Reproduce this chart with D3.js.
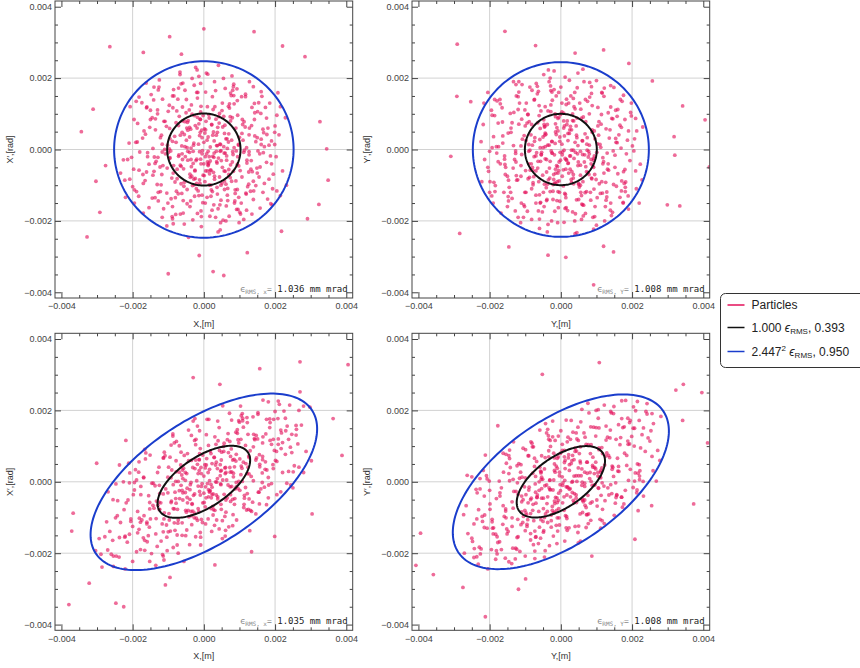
<!DOCTYPE html>
<html>
<head>
<meta charset="utf-8">
<script src="https://cdn.jsdelivr.net/npm/d3@7"></script>
<style>
  body { margin: 0; background: #fff; }
  svg { display: block; font-family: "Liberation Sans", Arial, sans-serif; }
</style>
</head>
<body>
<svg id="chart" width="860" height="668"></svg>
<script>
// Particle coordinates, units of 1e-5 (m and rad).
// Flat lists: x0, x'0, x1, x'1, ...
var particlesTL = [
  12,-45, -88,23, 134,67, -21,-110, 56,8, -143,-72, 77,151, -5,33, 190,-40, -64,-96,
  31,120, -117,15, 8,-12, 98,-134, -40,62, 161,29, -182,-58, 44,-77, -9,185, 70,44,
  -150,110, 23,-170, 112,-8, -36,-28, 205,96, -73,141, 60,-61, -128,-144, 15,88, -97,2,
  140,-116, -19,60, 83,176, -210,18, 3,-90, 51,109, -66,-181, 127,41, -45,-5, 188,-152,
  -112,79, 29,24, -158,-20, 94,-42, 7,214, -26,-131, 173,118, -82,37, 62,-200, -131,-98,
  41,-24, 109,70, -53,166, 20,-58, -189,-118, 152,-4, -7,-216, 85,128, -103,-52, 36,11,
  -14,72, 221,-60, -125,195, 67,-109, -39,-160, 117,155, -168,52, 10,-35, 90,-88, -60,119,
  146,22, -92,-138, 27,49, -234,-66, 55,199, -28,-83, 180,60, -71,-19, 101,-176, -141,139,
  4,-150, 74,92, -47,5, 132,-55, -196,84, 38,-125, -108,-12, 160,101, -18,144, 64,-30,
  -86,-66, 199,14, 19,-100, -154,-163, 116,63, -33,99, 47,-205, -119,40, 88,-123, -2,-72,
  170,-95, -59,186, 25,-19, -137,-39, 139,176, -77,-117, 10,120, 105,-150, -174,131, 58,45,
  -30,-39, 83,-61, -100,107, 211,41, -55,-209, 33,165, -203,-22, 126,-97, -12,-6, 79,206,
  -165,-87, 48,-142, 2,58, -79,-182, 157,-12, -44,81, 94,137, -122,-118, 18,-58, 229,89,
  -9,-27, -186,73, 71,-187, 120,5, -23,230, -96,-25, 43,74, -148,154, 179,-139, -58,-143,
  106,148, -34,-75, 150,-66, -110,0, 62,30, -18,-179, -200,-104, 135,118, -67,210, 24,-118,
  82,-14, -145,-136, 14,97, 193,-110, -71,67, 51,-94, -126,175, 98,12, -43,-246, 166,57,
  -97,124, 29,-10, -226,-29, 75,158, -5,-128, 121,-38, -57,-54, 185,130, -136,86, 40,-166,
  -20,160, 112,-196, -81,-91, 66,3, -172,32, 16,-68, 142,84, -40,-8, 87,-144, -113,-166,
  203,-20, -49,140, 36,-34, -101,-150, 128,190, -6,54, -161,-63, 58,-112, 158,-164, -27,95,
  91,-4, -140,175, 46,-225, -78,20, 215,-129, -15,15, 107,-77, -190,135, 0,-40, 72,116,
  -56,-103, 143,38, -118,-70, 30,190, 176,-36, -88,-194, 53,63, -35,125, 127,-6, -208,-83,
  20,-131, -66,40, 163,149, -130,111, 96,-168, -11,-95, 69,21, -154,-41, 41,236, -88,150,
  119,-125, -25,-58, 183,12, -64,184, 12,-42, -220,-134, 80,89, -47,-152, 139,-89, -105,65,
  60,171, -170,-178, 4,-20, 151,106, -93,-4, 37,-106, -14,205, 98,-46, -129,-22, 232,-100,
  -37,57, 88,-113, -150,84, 26,112, -62,-123, 167,-9, -8,-172, 113,78, -195,-150, 48,-3,
  -117,-7, 5,161, 135,-181, -76,108, 57,-60, -162,186, 94,-112, -27,-99, 199,48, -53,8,
  34,85, -104,-214, 154,131, -22,-31, -143,3, 66,-128, 121,-30, -85,168, 17,-187, -187,21,
  103,-181, -46,76, 9,26, -207,120, 78,-89, -64,-47, 161,162, -120,-99, 38,11, 126,-63,
  -16,-116, 208,159, -96,59, 45,-155, -137,-135, 84,151, -4,-3, -180,-7, 131,-117, 22,69,
  -69,93, 149,-52, -31,-197, 72,128, -123,-49, 190,24, -10,85, 54,-198, -161,117, 100,34,
  15,-20, -40,35, 60,-10, -25,-60, 38,48, -70,-15, 22,70, -55,42, 80,-35, -12,-85,
  45,15, -30,-5, 5,55, -85,-45, 65,30, -8,-40, 30,-75, -60,80, 90,60, -45,-30,
  0,20, 52,-50, -18,90, -95,30, 28,-22, -38,-78, 70,-70, -5,-12, 42,92, -75,-55,
  25,40, -62,10, 85,5, -20,-95, 10,-60, -48,60, 58,-88, -90,-80, 35,-5, -10,48,
  75,80, -35,-48, 18,-32, -78,75, 48,-100, -2,95, 95,-20, -52,-20, 12,35, -28,18,
  -122,33, 67,-143, 18,7, -41,111, 155,-77, -88,-160, 39,62, 110,26, -170,-95, 5,-60,
  93,170, -61,-12, 176,88, -14,-129, 49,-31, -136,55, 24,148, 120,-170, -75,-82, 143,103,
  -29,12, 81,-6, -104,-122, 11,211, 187,-18, -53,78, 62,-97, -197,-55, 35,40, -7,-188,
  128,60, -84,150, 1,-73, 69,121, -158,-9, 102,-59, -32,-101, 47,14, -117,-190, 166,-120,
  -9,105, 133,-31, -66,-44, 200,66, -145,89, 28,-155, -49,26, 84,183, -183,-131, 57,-10,
  -102,12, 14,-38, 117,148, -24,67, 74,-79, -191,20, 40,-231, -71,172, 158,-49, -12,39,
  95,96, -140,-61, 21,-113, -58,-178, 170,8, -87,117, 6,79, 139,-140, -214,-28, 52,130,
  -39,-69, 107,45, -128,167, 64,-18, -17,160, 183,-83, -95,-23, 30,-83, -61,48, 123,-104,
  -3,-149, -160,119, 86,-150, -47,-112, 215,120, 12,-5, -109,79, 150,33, -33,199, 70,-56,
  -171,-70, 44,101, -80,-135, 114,-2, -20,-27, 192,-155, -134,-33, 59,68, -8,121, 99,-205,
  -55,-92, 161,14, -195,-113, 27,-64, -116,141, 81,166, -36,4, 136,-62, -86,-208, 3,46,
  118,-122, -152,62, 46,-5, -67,217, 177,42, -24,-81, 92,-168, -128,-120, 56,93, -182,147,
  15,-99, 142,129, -99,-8, 33,-190, -10,84, -222,-86, 127,-15, -45,54, 78,26, -139,-21,
  63,-158, -115,-45, 195,-69, -27,180, 108,84, -72,-124, 9,-134, -164,43, 146,-101, -50,103,
  37,-38, 168,47, -89,-188, 75,-43, -130,100, -19,223, 205,-116, -60,-28, 97,14, -37,-144,
  0,338, 141,330, -96,316, -264,288, 221,290, 284,260, -344,50, -311,113, -328,-245, -292,-176,
  -100,-348, 26,-342, 56,-353, -13,-297, 326,78, 349,-86, 323,-154, 291,-194, 218,-229, 122,-289,
  345,2, -303,-89, -276,-45, -170,272, -63,267
];

var particlesTR = [
  -33,12, 95,-70, -140,48, 22,130, 67,-15, -8,-118, 180,84, -102,-160, 44,40, -61,95,
  120,-34, -15,-55, -186,140, 81,188, 5,-7, -130,-28, 59,-153, -48,210, 155,20, -92,-82,
  10,66, 212,-110, -74,23, 36,-96, -160,-120, 104,118, -26,-200, 70,-48, -118,161, 145,-176,
  -55,-14, 28,150, -205,-50, 138,55, -3,-145, -89,78, 176,-62, 48,11, -142,101, 83,-120,
  -20,-84, 110,14, -66,177, 16,-30, 196,104, -121,-85, 58,88, -38,-231, 129,-133, -175,8,
  74,-2, -97,130, 41,-180, -13,42, -150,-160, 167,140, -44,-26, 99,-84, -218,70, 3,105,
  136,32, -30,-118, 62,225, -112,10, 22,-66, -184,-101, 90,-190, -58,59, 194,-31, -7,-163,
  -81,166, 47,-12, -134,-52, 113,71, -24,138, 175,-150, -62,-90, 12,203, -200,-5, 87,-82,
  25,55, -105,-190, 152,-50, -44,120, 68,-121, -16,17, -170,128, 122,172, -90,-40, 40,-236,
  -140,60, 80,100, -9,-48, 201,10, -57,-148, 33,81, -188,-92, 108,-96, -28,165, 61,24,
  156,-103, -73,33, 19,-171, -125,150, 94,-18, -40,-63, 230,63, -6,90, -101,-120, 140,119,
  -18,-15, 63,-186, -158,-27, 35,143, -80,12, 118,-40, -35,223, 181,-118, -128,-172, 7,-102,
  88,48, -60,-221, 130,-10, -195,110, 29,-84, -11,61, 146,86, -86,-58, 50,-140, -163,38,
  100,193, -41,-107, 9,-2, -112,-75, 163,41, -69,185, 76,-65, -22,-140, 210,-60, -147,-144,
  53,130, -180,-10, 125,-160, -3,35, -93,98, 184,-12, -52,-175, 40,114, -126,-35, 92,-223,
  -38,70, 117,-122, -205,160, 66,-35, -17,-94, 149,174, -110,-14, 31,-62, -74,140, 220,-150,
  -150,-75, 15,126, 78,-5, -47,-160, 190,52, -100,66, 55,-100, -190,-150, 103,16, -30,200,
  44,-141, -133,11, 171,-88, -6,-59, 86,157, -82,-110, 8,80, -176,74, 133,-40, -60,-195,
  198,130, -25,23, 61,-155, -118,190, 37,-25, -9,-205, 114,98, -155,-50, 72,-118, -44,46,
  -98,-120, 160,-68, -36,108, 14,-135, -189,36, 96,30, -57,-33, 228,-85, -120,112, 46,173,
  127,-142, -79,-58, 24,45, -145,-106, 58,-196, -13,150, 169,4, -103,39, 35,-70, -60,-127,
  -171,140, 107,78, -4,-120, -68,-9, 142,-185, -28,125, 80,-12, -214,-28, 12,-165, 115,160,
  -50,5, 189,-130, -120,-190, 43,66, -31,-80, 154,110, -87,175, 21,-38, 96,-160, -156,-70,
  65,190, -12,-45, -181,8, 134,-58, -70,-150, 8,102, -137,75, 176,152, 52,-105, -24,-10,
  -112,-45, 39,-200, 207,30, -48,83, 115,-90, -94,-173, 20,25, -165,117, 85,-28, -6,160,
  147,-4, -39,-140, 75,135, -200,-120, 4,-75, -133,190, 102,-135, -56,108, 166,68, -15,-95,
  -84,41, 27,-18, -127,-4, 181,-106, -63,163, 56,-120, -170,-40, 94,52, -19,220, 121,-66,
  33,-175, -110,85, 158,93, -46,-97, -222,-90, 69,140, -1,-30, 140,-150, -90,14, 17,70,
  -148,-132, 92,-50, -29,178, 49,-35, 210,87, -76,-76, 11,-123, -116,130, 170,-116, -37,12,
  56,113, -158,-18, 123,-200, -15,72, 86,-80, -104,-155, 39,160, -193,96, 74,33, -65,-52,
  12,-25, -45,40, 55,-5, -20,-70, 30,55, -75,-20, 18,80, -50,35, 85,-40, -10,-90,
  40,20, -25,-10, 8,60, -80,-50, 60,25, -5,-35, 35,-80, -65,75, 88,55, -40,-28,
  3,15, 48,-45, -15,92, -98,25, 25,-18, -35,-85, 72,-62, -2,-8, 45,88, -70,-60,
  20,45, -58,5, 80,12, -22,-98, 14,-55, -45,65, 62,-90, -88,-78, 30,-2, -8,52,
  70,78, -32,-52, 15,-28, -82,70, 50,-95, -1,98, 92,-25, -55,-15, 10,38, -25,22,
  77,-21, -132,104, 13,-126, -64,-33, 182,-91, -25,161, 104,66, -185,-118, 41,-8, -8,87,
  -111,-150, 154,31, -47,70, 69,-179, -163,18, 24,194, 131,-55, -78,-93, 4,-15, 198,94,
  -36,-210, 88,123, -203,-61, 55,-44, -120,148, 166,-134, -15,49, 112,6, -70,-128, 30,-92,
  -148,46, 16,141, 93,-111, -54,-8, 140,179, -99,-59, 61,-14, -17,-173, 223,-41, -126,182,
  45,33, -82,-196, 178,-95, -28,106, 7,-57, -176,-34, 121,149, -61,123, 84,-142, -108,29,
  152,-16, -38,-97, -216,130, 36,80, -90,-5, 100,-212, -3,23, 170,62, -147,-86, 58,-129,
  -19,168, 133,103, -58,-150, 20,-39, -186,95, 79,-70, -127,-11, 48,214, 190,-167, -44,8,
  -95,74, 111,-123, -5,-88, 158,19, -168,-178, 68,44, -33,190, 126,-92, -75,139, 9,-204,
  205,-4, -124,-86, 37,120, -49,-120, 92,-30, -193,5, 143,87, -14,-66, -101,111, 64,-156,
  -59,28, 180,-56, -137,-137, 27,65, -11,-143, 116,158, -83,-40, 50,-98, -164,77, 3,130,
  139,-170, -42,43, 73,15, -199,-90, 101,-8, -22,-117, 160,112, -113,-205, 33,100, -70,-18,
  -157,-42, 86,176, -8,-66, 129,-119, -66,156, 213,52, -118,71, 55,-72, -27,-4, 95,-188,
  -40,-143, 172,135, -87,-2, 15,-163, -224,22, 63,91, -51,-72, 118,-23, -179,136, 26,-55,
  106,40, -141,-120, 45,-233, -92,98, 187,26, -30,-33, 81,147, -125,-73, 0,175, 148,-98,
  -63,-172, 35,-2, -109,182, 175,-148, -16,100, -194,-130, 90,-46, -46,63, 127,58, -78,-99,
  -157,331, -291,295, -71,291, 405,83, 417,-49, -309,-19, -284,-235, -146,-273, -36,-296, 14,-302,
  120,-271, 148,-287, 92,-379, 318,36, 320,-16, 334,-158, 299,-155, 40,270, 120,279, 191,241,
  257,192, 342,122, -253,134, -292,149
];

var particlesBL = [
  16,-29, -114,-34, 174,134, -27,-101, 73,40, -186,-143, 100,167, -7,23, 247,82, -83,-115,
  40,115, -152,-58, 10,-5, 127,-48, -52,26, 209,120, -237,-156, 57,-35, -12,143, 91,77,
  -195,-2, 30,-122, 146,61, -47,-44, 267,200, -95,69, 78,-13, -166,-192, 20,79, -126,-57,
  182,-9, -25,37, 108,191, -273,-112, 4,-70, 66,118, -86,-184, 165,109, -59,-31, 244,-9,
  -146,-4, 38,37, -205,-111, 122,23, 9,175, -34,-120, 225,198, -107,-20, 81,-123, -170,-157,
  53,5, 142,121, -69,101, 26,-34, -246,-208, 198,88, -9,-177, 111,153, -134,-103, 47,30,
  -18,49, 287,85, -163,81, 87,-47, -51,-151, 152,194, -218,-59, 13,-22, 117,-16, -78,59,
  190,105, -120,-166, 35,55, -304,-193, 72,192, -36,-83, 234,156, -92,-58, 131,-80, -183,27,
  5,-118, 96,118, -61,-24, 172,35, -255,-50, 49,-77, -140,-74, 208,177, -23,104, 83,14,
  -112,-104, 259,131, 25,-69, -200,-223, 151,120, -43,59, 61,-136, -155,-39, 114,-46, -3,-59,
  221,26, -77,113, 33,0, -178,-113, 181,224, -100,-140, 13,102, 137,-57, -226,0, 75,71,
  -39,-49, 108,1, -130,26, 274,159, -72,-200, 43,152, -264,-139, 164,-2, -16,-12, 103,212,
  -215,-169, 62,-85, 3,48, -103,-193, 204,85, -57,38, 122,166, -159,-168, 23,-36, 298,209,
  -12,-27, -242,-53, 92,-107, 156,76, -30,170, -125,-78, 56,85, -192,34, 233,-4, -75,-149,
  138,182, -44,-80, 195,37, -143,-66, 81,61, -23,-154, -260,-203, 176,175, -87,128, 31,-80,
  107,38, -189,-196, 18,86, 251,28, -92,11, 66,-45, -164,64, 127,68, -56,-223, 216,145,
  -126,41, 38,9, -294,-159, 98,171, -7,-105, 157,42, -74,-77, 241,215, -177,-13, 52,-109,
  -26,116, 146,-90, -105,-121, 86,42, -224,-78, 21,-45, 185,152, -52,-30, 113,-63, -147,-201,
  264,106, -64,83, 47,-6, -131,-181, 166,229, -8,40, -209,-147, 75,-55, 205,-36, -35,60,
  118,51, -182,56, 60,-152, -101,-31, 280,26, -20,3, 139,3, -247,-6, 0,-32, 94,136,
  -73,-116, 186,116, -153,-127, 39,170, 229,77, -114,-208, 69,82, -46,79, 165,71, -270,-191,
  26,-93, -86,-8, 212,217, -169,11, 125,-77, -14,-83, 90,58, -200,-125, 53,213, -114,67,
  155,-29, -33,-61, 238,119, -83,109, 16,-26, -286,-239, 104,119, -61,-150, 181,12, -137,-11,
  78,173, -221,-244, 5,-14, 196,175, -121,-59, 48,-63, -18,156, 127,22, -168,-95, 302,59,
  -48,23, 114,-38, -195,-23, 34,105, -81,-136, 217,93, -10,-142, 147,130, -254,-237, 62,26,
  -152,-76, 7,132, 176,-64, -99,41, 74,-14, -211,52, 122,-33, -35,-95, 259,158, -69,-25,
  44,88, -135,-234, 200,197, -29,-38, -186,-83, 86,-63, 157,49, -111,83, 22,-139, -243,-95,
  134,-83, -60,33, 12,26, -269,-28, 101,-24, -83,-76, 209,226, -156,-151, 49,32, 164,25,
  -21,-102, 270,252, -125,-10, 59,-97, -178,-190, 109,171, -5,-5, -234,-114, 170,-15, 29,68,
  -90,33, 194,48, -40,-176, 94,146, -160,-113, 247,133, -13,62, 70,-126, -209,-3, 130,87,
  20,-7, -52,4, 78,28, -33,-63, 49,61, -91,-54, 29,69, -72,1, 104,20, -16,-75,
  59,39, -39,-22, 7,47, -111,-87, 85,63, -10,-37, 39,-42, -78,28, 117,102, -59,-51,
  0,16, 68,-9, -23,61, -124,-33, 36,-1, -49,-85, 91,-14, -7,-13, 55,99, -98,-89,
  33,47, -81,-29, 111,55, -26,-88, 13,-42, -62,19, 75,-36, -117,-118, 46,17, -13,32,
  98,109, -46,-59, 23,-15, -101,13, 62,-51, -3,75, 124,41, -68,-47, 16,35, -36,-2,
  -160,-118, 88,-20, 23,51, -55,74, 201,60, -114,-140, 50,83, 143,118, -221,-152, 6,-45,
  121,180, -79,-47, 229,178, -18,-108, 64,5, -177,-36, 31,126, 156,-62, -97,-107, 186,166,
  -38,-8, 105,44, -135,-146, 14,175, 243,97, -69,27, 81,-49, -256,-164, 46,48, -9,-155,
  166,126, -109,73, 1,-58, 90,139, -205,-104, 133,15, -42,-98, 61,40, -152,-223, 216,-28,
  -12,79, 173,56, -86,-75, 260,147, -189,5, 36,-107, -64,-10, 109,178, -238,-211, 74,27,
  -133,-54, 18,-25, 152,189, -31,40, 96,-19, -248,-101, 52,-159, -92,103, 205,57, -16,23,
  124,133, -182,-133, 27,-78, -75,-177, 221,110, -113,67, 8,65, 181,-45, -278,-154, 68,135,
  -51,-80, 139,98, -166,91, 83,24, -22,119, 238,29, -124,-77, 39,-48, -79,1, 160,-20,
  -4,-114, -208,25, 112,-72, -61,-115, 280,212, 16,3, -142,-4, 195,119, -43,145, 91,-2,
  -222,-155, 57,108, -104,-155, 148,67, -26,-34, 250,-17, -174,-107, 77,92, -10,93, 129,-137,
  -72,-107, 209,105, -254,-208, 35,-37, -151,75, 105,185, -47,-18, 177,33, -112,-219, 4,39,
  153,-29, -198,-36, 60,23, -87,134, 230,143, -31,-82, 120,-79, -166,-164, 73,113, -237,47,
  20,-75, 185,176, -129,-66, 43,-132, -13,62, -289,-203, 165,62, -59,9, 101,64, -181,-102,
  82,-92, -150,-104, 254,45, -35,130, 140,133, -94,-138, 12,-104, -213,-51, 190,-5, -65,47,
  48,-8, 218,137, -116,-204, 98,1, -169,13, -25,177, 267,41, -78,-60, 126,72, -48,-135,
  -379,-344, -225,-350, -247,-340, -322,-284, 405,328, 270,336, 157,317, -30,292, 45,273, -301,52,
  -367,-88, -371,-138, 363,177, 388,74, 304,-90, -108,-289, -95,-268, 31,-233, 134,-196, 199,-153,
  -219,116
];

var particlesBR = [
  -40,-9, 116,-3, -171,-40, 27,119, 82,26, -10,-101, 220,172, -124,-189, 54,58, -74,43,
  146,41, -18,-54, -227,9, 99,200, 6,-3, -159,-97, 72,-92, -59,145, 189,105, -112,-120,
  12,60, 259,31, -90,-23, 44,-58, -195,-190, 127,156, -32,-179, 85,1, -144,65, 177,-62,
  -67,-43, 34,139, -250,-158, 168,124, -4,-121, -109,13, 215,50, 59,36, -173,2, 101,-51,
  -24,-80, 134,74, -81,108, 20,-16, 239,197, -148,-139, 71,105, -46,-211, 157,-36, -214,-93,
  90,41, -118,51, 50,-124, -16,27, -183,-217, 204,210, -54,-46, 121,-12, -266,-67, 4,88,
  166,104, -37,-114, 76,220, -137,-56, 27,-42, -224,-188, 110,-105, -71,15, 237,85, -9,-138,
  -99,90, 57,17, -163,-119, 138,123, -29,99, 214,-23, -76,-109, 15,173, -244,-118, 106,-18,
  31,59, -128,-216, 185,46, -54,73, 83,-60, -20,5, -207,8, 149,211, -110,-84, 49,-171,
  -171,-31, 98,128, -11,-45, 245,123, -70,-154, 40,85, -229,-183, 132,-17, -34,119, 74,55,
  190,4, -89,-15, 23,-129, -153,52, 115,39, -49,-75, 281,183, -7,70, -123,-156, 171,177,
  -22,-23, 77,-117, -193,-112, 43,137, -98,-36, 144,35, -43,163, 221,6, -156,-214, 9,-80,
  107,90, -73,-215, 159,66, -238,-21, 35,-52, -13,44, 178,154, -105,-97, 61,-86, -199,-62,
  122,215, -50,-111, 11,4, -137,-125, 199,127, -84,112, 93,-10, -27,-127, 256,71, -179,-202,
  65,137, -220,-111, 153,-60, -4,27, -113,27, 224,95, -63,-173, 49,116, -154,-101, 112,-130,
  -46,36, 143,-33, -250,14, 81,9, -21,-87, 182,228, -134,-74, 38,-33, -90,73, 268,2,
  -183,-147, 18,112, 95,40, -57,-158, 232,151, -122,-3, 67,-51, -232,-231, 126,72, -37,147,
  54,-90, -162,-67, 209,25, -7,-52, 105,178, -100,-137, 10,70, -215,-40, 162,43, -73,-194,
  242,219, -31,5, 74,-92, -144,89, 45,1, -11,-173, 139,145, -189,-129, 88,-56, -54,13,
  -120,-154, 195,35, -44,68, 17,-103, -231,-78, 117,79, -70,-60, 278,60, -146,23, 56,168,
  155,-44, -96,-93, 29,51, -177,-170, 71,-128, -16,116, 206,100, -126,-27, 43,-37, -73,-138,
  -209,17, 131,125, -5,-101, -83,-46, 173,-71, -34,87, 98,36, -261,-145, 15,-129, 140,197,
  -61,-24, 231,1, -146,-224, 52,79, -38,-83, 188,178, -106,94, 26,-19, 117,-77, -190,-146,
  79,193, -15,-44, -221,-97, 163,29, -85,-163, 10,88, -167,-17, 215,225, 63,-56, -29,-22,
  -137,-101, 48,-142, 253,143, -59,41, 140,-8, -115,-195, 24,32, -201,2, 104,26, -7,128,
  179,80, -48,-137, 92,153, -244,-212, 5,-59, -162,80, 124,-53, -68,57, 203,150, -18,-86,
  -102,-14, 33,1, -155,-76, 221,16, -77,98, 68,-66, -207,-130, 115,96, -23,170, 148,15,
  40,-125, -134,7, 193,166, -56,-106, -271,-200, 84,154, -1,-25, 171,-43, -110,-40, 21,67,
  -181,-193, 112,11, -35,129, 60,-1, 256,191, -93,-106, 13,-95, -142,40, 207,2, -45,-11,
  68,125, -193,-105, 150,-94, -18,50, 105,-17, -127,-186, 48,153, -235,-31, 90,69, -79,-80,
  15,-14, -55,7, 67,27, -24,-69, 37,62, -92,-59, 22,76, -61,0, 104,16, -12,-80,
  49,39, -31,-22, 10,54, -98,-87, 73,55, -6,-32, 43,-46, -79,24, 107,95, -49,-46,
  4,14, 59,-10, -18,67, -120,-35, 31,-1, -43,-90, 88,-10, -2,-8, 55,98, -85,-89,
  24,48, -71,-29, 98,55, -27,-93, 17,-37, -55,28, 76,-38, -107,-114, 37,16, -10,38,
  85,104, -39,-61, 18,-14, -100,11, 61,-49, -1,80, 112,32, -67,-44, 12,37, -31,4,
  94,23, -161,27, 16,-97, -78,-63, 222,31, -30,116, 127,117, -226,-202, 50,17, -10,66,
  -135,-186, 188,114, -57,30, 84,-108, -199,-77, 29,172, 160,30, -95,-119, 5,-10, 242,190,
  -44,-193, 107,151, -248,-167, 67,-4, -146,73, 203,-16, -18,32, 137,68, -85,-145, 37,-58,
  -181,-47, 20,125, 113,-38, -66,-37, 171,227, -121,-105, 74,24, -21,-152, 272,88, -154,77,
  55,53, -100,-208, 217,24, -34,70, 9,-42, -215,-128, 148,191, -74,66, 102,-68, -132,-27,
  185,74, -46,-100, -263,18, 44,86, -110,-56, 122,-117, -4,17, 207,150, -179,-154, 71,-72,
  -23,126, 162,160, -71,-155, 24,-21, -227,-20, 96,-8, -155,-82, 59,203, 232,-40, -54,-19,
  -116,10, 135,-37, -6,-75, 193,106, -205,-244, 83,79, -40,137, 154,-3, -92,73, 11,-166,
  250,114, -151,-146, 45,120, -60,-127, 112,27, -236,-104, 174,152, -17,-61, -123,45, 78,-90,
  -72,-6, 220,48, -167,-190, 33,74, -13,-122, 142,193, -101,-80, 61,-52, -200,-24, 4,105,
  170,-43, -51,7, 89,46, -243,-187, 123,47, -27,-109, 195,172, -138,-229, 40,94, -85,-50,
  -192,-130, 105,202, -10,-58, 157,-38, -80,98, 260,163, -144,3, 67,-13, -33,-17, 116,-109,
  -49,-141, 210,199, -106,-50, 18,-136, -273,-92, 77,104, -62,-83, 144,44, -218,32, 32,-30,
  129,81, -172,-168, 55,-166, -112,48, 228,132, -37,-42, 99,152, -152,-132, 0,143, 181,-24,
  -77,-176, 43,17, -133,112, 213,-31, -20,80, -236,-210, 110,14, -56,25, 155,119, -95,-125,
  -52,301, 108,334, 396,250, 412,109, 373,-62, -394,-144, -407,-234, -358,-260, -275,-296, -212,-378,
  -119,-301, -99,-272, 87,-208, 208,-161, 217,-81, 255,-67, -177,157, -212,75, 342,172, 323,257,
  344,273
];

// RMS beam ellipse parameters per panel (sigma, sigma', correlation), units 1e-5
var sigmaPos = [103, 101, 130, 124];
var sigmaAng = [101, 100, 101, 100];
var corr = [0, 0, 0.6, 0.58];
var contourScale = [1.000, 2.447];
var contourColor = ["#111111", "#1a3dcc"];

var emitValues = ["1.036", "1.008", "1.035", "1.008"];
var emitPlanes = ["x", "Y", "x", "Y"];
var xTitles = ["X,[m]", "Y,[m]", "X,[m]", "Y,[m]"];
var yTitles = ["X\u2032,[rad]", "Y\u2032,[rad]", "X\u2032,[rad]", "Y\u2032,[rad]"];

var majorTicks = [-400, -200, 0, 200, 400];
var minorTicks = d3.range(-400, 401, 50).filter(function(v) { return v % 200 !== 0; });
var gridValues = [-200, 0, 200];

var legendNames = ["Particles", "1.000", "2.447"];
var legendFractions = ["", "0.393", "0.950"];

var pink = "#e3105a";

var svg = d3.select("#chart");
var W = 297.7, H = 297;
var origins = [[55, 1], [412, 1], [55, 333.3], [412, 333.3]];
var allParticles = [particlesTL, particlesTR, particlesBL, particlesBR];

var x = d3.scaleLinear().domain([-418, 418]).range([0, W]);
var y = d3.scaleLinear().domain([-416, 416]).range([H, 0]);
var fmt = function(d) { return d3.format(".3f")(d / 1e5); };

allParticles.forEach(function(pts, i) {
  var g = svg.append("g")
    .attr("transform", "translate(" + origins[i][0] + "," + origins[i][1] + ")");

  g.append("clipPath").attr("id", "clip" + i)
    .append("rect").attr("width", W).attr("height", H);

  // grid
  g.selectAll(".gx").data(gridValues).enter().append("line")
    .attr("x1", function(d) { return x(d); }).attr("x2", function(d) { return x(d); })
    .attr("y1", 0).attr("y2", H)
    .style("stroke", "#d2d2d2").style("stroke-width", 1);
  g.selectAll(".gy").data(gridValues).enter().append("line")
    .attr("y1", function(d) { return y(d); }).attr("y2", function(d) { return y(d); })
    .attr("x1", 0).attr("x2", W)
    .style("stroke", "#d2d2d2").style("stroke-width", 1);

  // particles
  var idx = d3.range(pts.length / 2);
  g.append("g").attr("clip-path", "url(#clip" + i + ")")
    .selectAll("circle").data(idx).enter().append("circle")
    .attr("cx", function(k) { return x(pts[2 * k]); })
    .attr("cy", function(k) { return y(pts[2 * k + 1]); })
    .attr("r", 1.9)
    .style("fill", pink)
    .style("opacity", 0.62);

  // rms ellipses
  var a = sigmaPos[i], b = sigmaAng[i], r = corr[i];
  var angles = d3.range(0, 2 * Math.PI, Math.PI / 90);
  contourScale.forEach(function(k, j) {
    var ring = angles.map(function(t) {
      return [k * a * Math.cos(t), k * b * (r * Math.cos(t) + Math.sqrt(1 - r * r) * Math.sin(t))];
    });
    g.append("path")
      .attr("d", d3.line()
        .x(function(p) { return x(p[0]); })
        .y(function(p) { return y(p[1]); })
        .curve(d3.curveLinearClosed)(ring))
      .style("fill", "none")
      .style("stroke", contourColor[j])
      .style("stroke-width", 2);
  });

  // frame ticks, pointing inwards on all sides
  function styleAxis(sel) {
    sel.select(".domain").remove();
    sel.attr("font-size", 9).attr("font-family", "'Liberation Sans', Arial, sans-serif")
      .attr("color", "#444");
  }
  g.append("g").call(d3.axisLeft(y).tickValues(majorTicks).tickSize(-6).tickPadding(3).tickFormat(fmt)).call(styleAxis);
  g.append("g").call(d3.axisLeft(y).tickValues(minorTicks).tickSize(-3).tickFormat("")).call(styleAxis);
  g.append("g").attr("transform", "translate(" + W + ",0)")
    .call(d3.axisRight(y).tickValues(majorTicks).tickSize(-6).tickFormat("")).call(styleAxis);
  g.append("g").attr("transform", "translate(" + W + ",0)")
    .call(d3.axisRight(y).tickValues(minorTicks).tickSize(-3).tickFormat("")).call(styleAxis);
  g.append("g").attr("transform", "translate(0," + H + ")")
    .call(d3.axisBottom(x).tickValues(majorTicks).tickSize(-6).tickPadding(5).tickFormat(fmt)).call(styleAxis);
  g.append("g").attr("transform", "translate(0," + H + ")")
    .call(d3.axisBottom(x).tickValues(minorTicks).tickSize(-3).tickFormat("")).call(styleAxis);
  g.append("g").call(d3.axisTop(x).tickValues(majorTicks).tickSize(-6).tickFormat("")).call(styleAxis);
  g.append("g").call(d3.axisTop(x).tickValues(minorTicks).tickSize(-3).tickFormat("")).call(styleAxis);

  g.append("rect").attr("width", W).attr("height", H)
    .style("fill", "none").style("stroke", "#444").style("stroke-width", 1);

  // axis titles
  g.append("text").attr("x", W / 2).attr("y", H + 29)
    .attr("text-anchor", "middle").attr("font-size", 9).style("fill", "#333")
    .text(xTitles[i]);
  g.append("text")
    .attr("transform", "translate(-42," + (H / 2) + ") rotate(-90)")
    .attr("text-anchor", "middle").attr("font-size", 9).style("fill", "#333")
    .text(yTitles[i]);

  // emittance note
  var note = g.append("text").attr("x", W - 5).attr("y", H - 6)
    .attr("text-anchor", "end")
    .style("font-family", "'DejaVu Sans Mono', 'Liberation Mono', monospace");
  note.append("tspan").attr("font-size", 9).style("fill", "#888").text("\u03f5");
  note.append("tspan").attr("font-size", 6).attr("dy", 1.5).style("fill", "#888").text("RMS, " + emitPlanes[i]);
  note.append("tspan").attr("font-size", 8).attr("dy", -1.5).style("fill", "#888").text("=");
  note.append("tspan").attr("font-size", 9).style("fill", "#222").text(" " + emitValues[i] + " mm mrad");
});

// legend
var lg = svg.append("g").attr("transform", "translate(720.5,293.5)");
lg.append("rect").attr("width", 150).attr("height", 74).attr("rx", 5)
  .style("fill", "#fff").style("stroke", "#333").style("stroke-width", 1);
var legendColors = [pink, contourColor[0], contourColor[1]];
var rowY = [11.5, 34, 58];
legendNames.forEach(function(name, j) {
  lg.append("line").attr("x1", 7).attr("x2", 24).attr("y1", rowY[j]).attr("y2", rowY[j])
    .style("stroke", legendColors[j]).style("stroke-width", 1.5);
  var t = lg.append("text").attr("x", 31).attr("y", rowY[j] + 4.3)
    .attr("font-size", 12).style("fill", "#222");
  t.append("tspan").text(name);
  if (j === 0) return;
  if (j === 2) t.append("tspan").attr("font-size", 8).attr("dy", -5).text("2");
  t.append("tspan").attr("dy", j === 2 ? 5 : 0).attr("font-style", "italic").text(j === 2 ? " \u03f5" : "  \u03f5");
  t.append("tspan").attr("font-size", 8).attr("dy", 2.5).text("RMS");
  t.append("tspan").attr("dy", -2.5).text(", " + legendFractions[j]);
});
</script>
</body>
</html>
